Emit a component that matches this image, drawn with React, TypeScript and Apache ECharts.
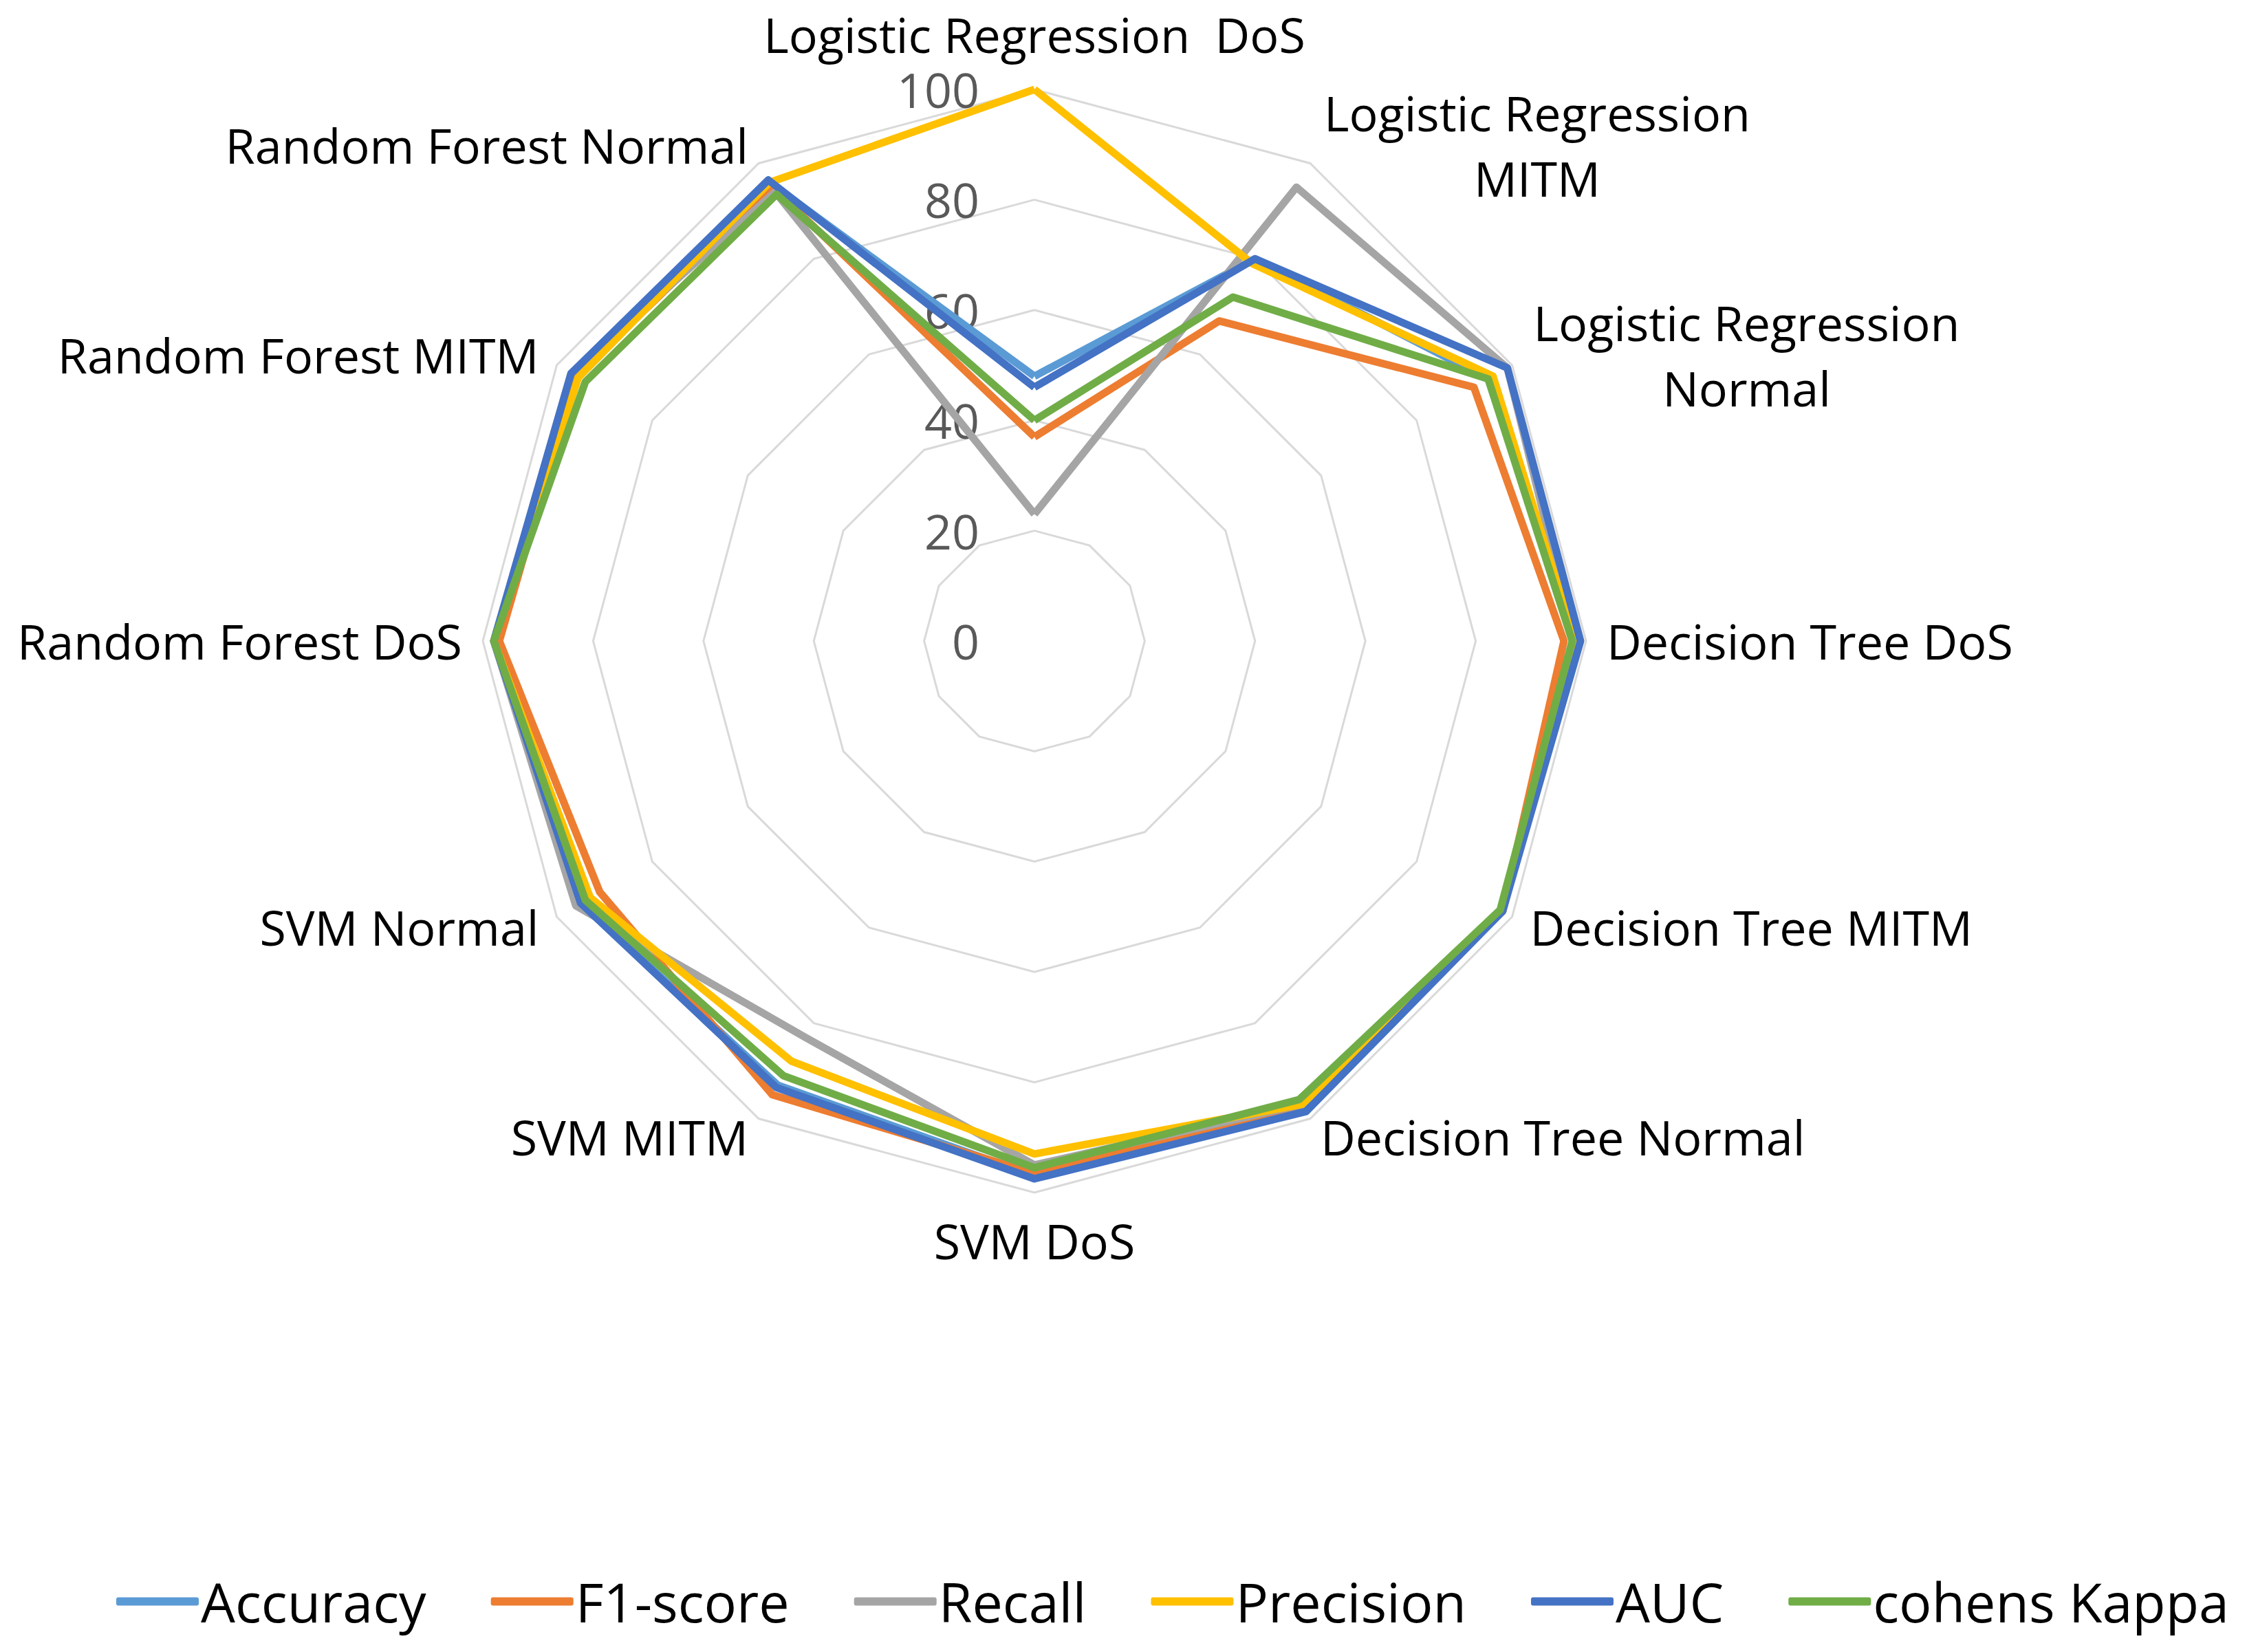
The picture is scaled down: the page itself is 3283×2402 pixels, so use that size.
import React, { useEffect, useRef } from "react";
import * as echarts from "echarts";

// Categories listed clockwise from the top, as in the reference
const categories = [
  "Logistic Regression  DoS",
  "Logistic Regression\nMITM",
  "Logistic Regression\nNormal",
  "Decision Tree DoS",
  "Decision Tree MITM",
  "Decision Tree Normal",
  "SVM DoS",
  "SVM MITM",
  "SVM Normal",
  "Random Forest DoS",
  "Random Forest MITM",
  "Random Forest Normal",
];

const seriesNames = ["Accuracy", "F1-score", "Recall", "Precision", "AUC", "cohens Kappa"];
const seriesColors = ["#5B9BD5", "#ED7D31", "#A5A5A5", "#FFC000", "#4472C4", "#70AD47"];

const accuracy = [48, 80, 95, 98, 98, 98, 97, 93, 95, 98, 96, 96];
const f1Score = [37, 67, 92, 96, 98, 97, 96.5, 95, 91, 97, 96, 95];
const recall = [23, 95, 99, 98, 98, 97, 95, 83, 96, 98, 97, 94];
const precision = [100, 79, 96, 98, 98, 97, 93, 88, 93, 98, 95.5, 96];
const auc = [46, 80, 99, 99, 98, 98.5, 97.5, 93.5, 95, 98, 97, 96.5];
const cohensKappa = [40, 72, 95, 97.5, 97.5, 96, 95.5, 91, 94, 98, 94, 93.5];

const seriesValues = [accuracy, f1Score, recall, precision, auc, cohensKappa];

// ECharts radar runs counter-clockwise; this order makes it read clockwise
const axisOrder = [0, 11, 10, 9, 8, 7, 6, 5, 4, 3, 2, 1];

export default function App() {
  const ref = useRef<HTMLDivElement>(null);
  useEffect(() => {
    if (!ref.current) return;
    const chart = echarts.init(ref.current, undefined, { renderer: "svg" });
    const font = "Open Sans";
    chart.setOption({
      animation: false,
      backgroundColor: "#ffffff",
      textStyle: { fontFamily: font },
      legend: {
        data: seriesNames,
        left: 156,
        top: 2276,
        width: 3110,
        icon: "roundRect",
        itemWidth: 120,
        itemHeight: 12,
        itemGap: 94,
        textStyle: { fontFamily: font, fontSize: 79, color: "#000000", padding: [0, 0, 0, -2] },
      },
      radar: {
        center: [1496, 924],
        radius: 802,
        startAngle: 90,
        shape: "polygon",
        splitNumber: 5,
        nameGap: 30,
        axisName: {
          color: "#000000",
          fontFamily: font,
          fontSize: 70,
          lineHeight: 80,
          formatter: (name: string) => {
            if (name === categories[0]) return "{t|" + name + "}";
            if (name.indexOf("\n") < 0) return name;
            return name
              .split("\n")
              .map((l) => "{c|" + l + "}")
              .join("\n");
          },
          rich: {
            c: { width: 630, align: "center", fontSize: 70, lineHeight: 95, color: "#000000", fontFamily: font },
            t: { fontSize: 70, lineHeight: 76, padding: [0, 0, 10, 0], color: "#000000", fontFamily: font },
          },
        },
        axisLine: { show: false },
        axisTick: { show: false },
        axisLabel: {
          show: false,
          color: "#595959",
          fontSize: 70,
          fontFamily: font,
          margin: 80,
          padding: [10, 0, 0, 0],
        },
        splitLine: { lineStyle: { color: "#D9D9D9", width: 3 } },
        splitArea: { show: false },
        indicator: axisOrder.map((k, i) =>
          i === 0
            ? { name: categories[k], min: 0, max: 100, axisLabel: { show: true } }
            : { name: categories[k], min: 0, max: 100 }
        ),
      },
      series: seriesNames.map((n, i) => ({
        type: "radar",
        name: n,
        symbol: "none",
        lineStyle: { width: 11, color: seriesColors[i] },
        itemStyle: { color: seriesColors[i] },
        data: [{ name: n, value: axisOrder.map((k) => seriesValues[i][k]) }],
      })),
    });
    return () => chart.dispose();
  }, []);
  return <div ref={ref} style={{ width: 3267, height: 2386 }} />;
}
